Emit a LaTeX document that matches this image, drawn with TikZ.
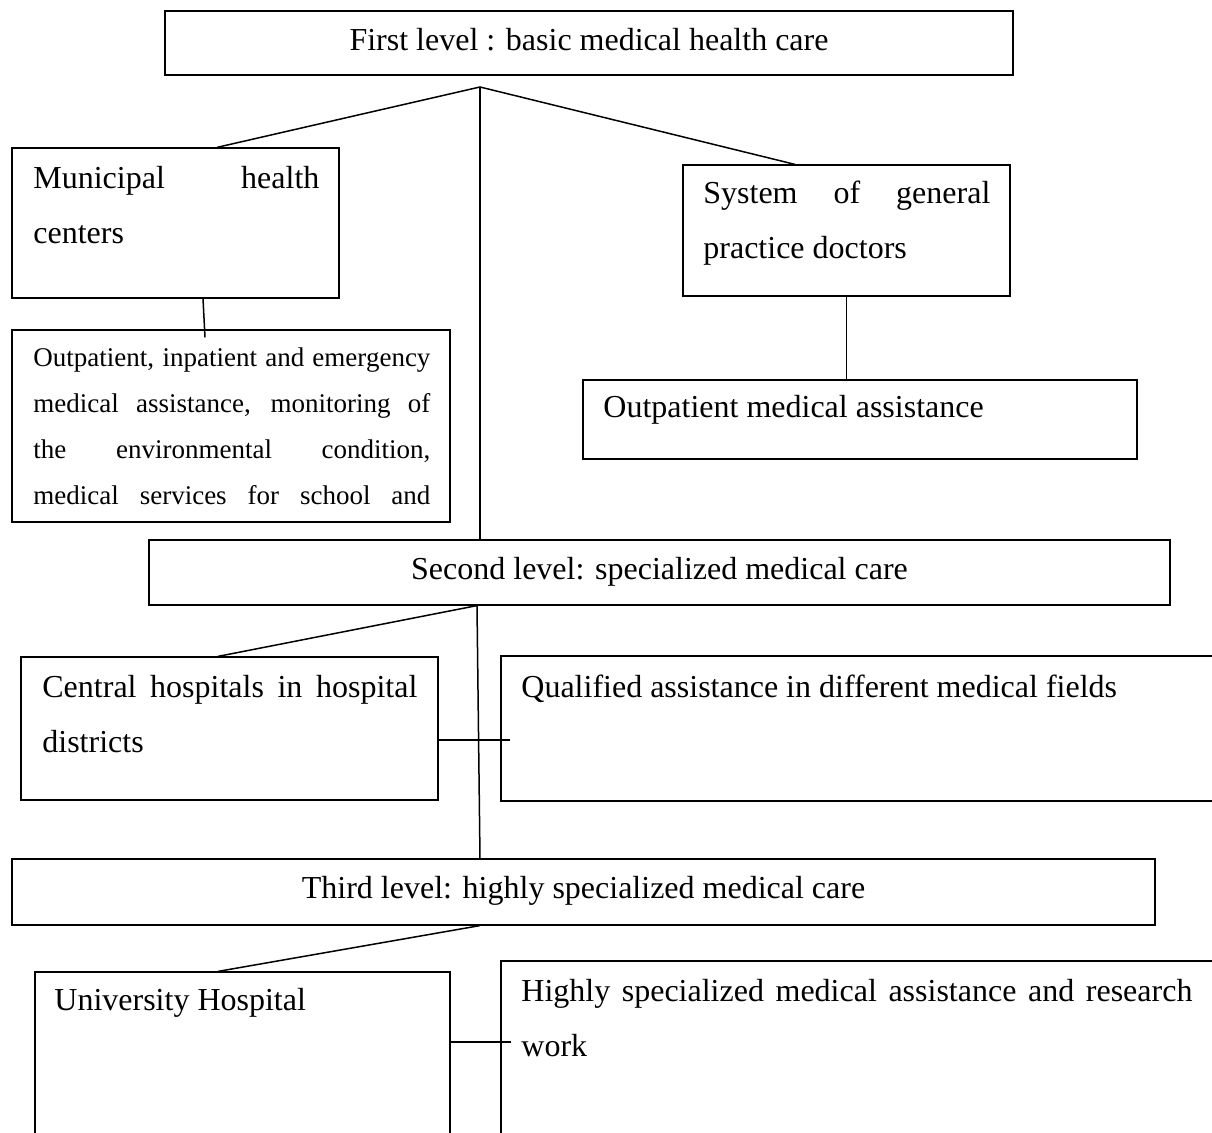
\documentclass[tikz,border=0pt]{standalone}
\usepackage{fontspec}
\setmainfont{Liberation Serif}
\usetikzlibrary{fit}
\tolerance=10000
\hbadness=10000

\begin{document}
\begin{tikzpicture}[x=1pt,y=-1pt]
\tikzset{box/.style={draw,line width=0.6pt,inner sep=0pt},
  big/.style={font=\fontsize{16}{27.5}\selectfont},
  small/.style={font=\fontsize{13.5}{23}\selectfont},
  txt/.style={anchor=base west,inner sep=0pt,align=justify},
  head/.style={big,anchor=base,inner sep=0pt},
  link/.style={line width=0.75pt}}
\useasboundingbox (0,0) rectangle (606,566.5);
\clip (0,0) rectangle (606,566.5);
% first level
\node[box,fit={(82.5,5.5) (506.5,37.5)}] (first) {};
\node[head] (firsttext) at ([yshift=-20pt]first.north) {First level : basic medical health care};
\node[box,fit={(6,74) (169.5,149)}] (muni) {};
\node[txt,big,text width=143pt] (munitext) at (16.5,94.5) {Municipal health\linebreak centers};
\node[box,fit={(6,165) (225,261)}] (opl) {};
\node[txt,small,text width=198.5pt] (opltext) at (16.5,183.5) {Outpatient, inpatient and emergency\linebreak medical assistance, monitoring of\linebreak the environmental condition,\linebreak medical\hfill services\hfill for\hfill school\hfill and};
\node[box,fit={(341.5,82.5) (505,148)}] (sys) {};
\node[txt,big,text width=143.5pt] (systext) at (351.5,102) {System of general\linebreak practice doctors};
\node[box,fit={(291.5,190) (568.5,229.5)}] (opm) {};
\node[txt,big] (opmtext) at (301.5,209) {Outpatient medical assistance};
% second level
\node[box,fit={(74.5,270) (585,302.5)}] (second) {};
\node[head] (secondtext) at ([yshift=-20pt]second.north) {Second level: specialized medical care};
\node[box,fit={(10.5,328.5) (219,400)}] (central) {};
\node[txt,big,text width=187.5pt] (centraltext) at (21,349) {Central hospitals in hospital\linebreak districts};
\node[box,fit={(250.5,328) (615,400.5)}] (qual) {};
\node[txt,big] (qualtext) at (260.5,349) {Qualified assistance in different medical fields};
% third level
\node[box,fit={(6,429.5) (577.5,462.5)}] (third) {};
\node[head] (thirdtext) at ([yshift=-20pt]third.north) {Third level: highly specialized medical care};
\node[box,fit={(17.5,486) (225,575)}] (univ) {};
\node[txt,big] (univtext) at (27,505.5) {University Hospital};
\node[box,fit={(250.5,480.5) (615,575)}] (high) {};
\node[txt,big,text width=335.5pt] (hightext) at (260.5,501) {Highly specialized medical assistance and research\linebreak work};
% connectors
\coordinate (j1) at (240,43.5);
\draw[link] ([xshift=20.75pt]muni.north) -- (j1) -- ([xshift=-25.75pt]sys.north);
\draw[link] (j1) -- (j1 |- second.north);
\draw[link] ([xshift=13.75pt]muni.south) -- ([xshift=-13pt,yshift=-4pt]opl.north);
\draw[link] (sys.south) -- (sys.south |- opm.north);
\coordinate (j2) at ([xshift=-91.25pt]second.south);
\draw[link] ([xshift=-5.75pt]central.north) -- (j2) -- ([xshift=-51.75pt]third.north);
\draw[link] ([yshift=-5.75pt]central.east) coordinate (c1) -- ([xshift=5pt]qual.west |- c1);
\coordinate (j3) at ([xshift=-51.75pt]third.south);
\draw[link] (j3) -- ([xshift=-12.25pt]univ.north);
\draw[link] ([yshift=9.5pt]univ.east) coordinate (u1) -- ([xshift=5.5pt]high.west |- u1);
\end{tikzpicture}
\end{document}
